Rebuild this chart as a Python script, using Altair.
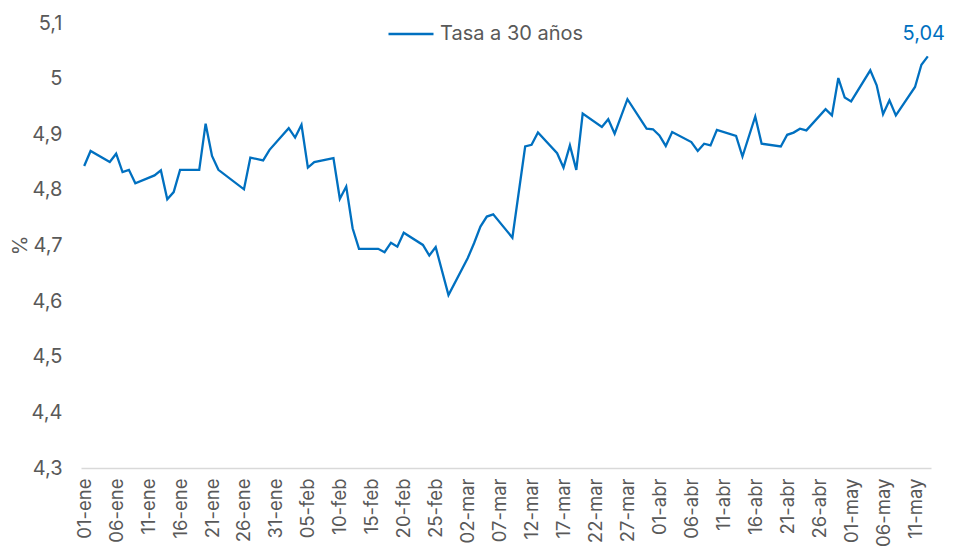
import altair as alt
import pandas as pd

# ---- data ----
fechas = [
    "2026-01-01", "2026-01-02", "2026-01-05", "2026-01-06", "2026-01-07", "2026-01-08", "2026-01-09",
    "2026-01-12", "2026-01-13", "2026-01-14", "2026-01-15", "2026-01-16", "2026-01-19", "2026-01-20",
    "2026-01-21", "2026-01-22", "2026-01-26", "2026-01-27", "2026-01-29", "2026-01-30", "2026-02-02",
    "2026-02-03", "2026-02-04", "2026-02-05", "2026-02-06", "2026-02-09", "2026-02-10", "2026-02-11",
    "2026-02-12", "2026-02-13", "2026-02-16", "2026-02-17", "2026-02-18", "2026-02-19", "2026-02-20",
    "2026-02-23", "2026-02-24", "2026-02-25", "2026-02-27", "2026-03-02", "2026-03-03", "2026-03-04",
    "2026-03-05", "2026-03-06", "2026-03-09", "2026-03-11", "2026-03-12", "2026-03-13", "2026-03-16",
    "2026-03-17", "2026-03-18", "2026-03-19", "2026-03-20", "2026-03-23", "2026-03-24", "2026-03-25",
    "2026-03-27", "2026-03-30", "2026-03-31", "2026-04-01", "2026-04-02", "2026-04-03", "2026-04-06",
    "2026-04-07", "2026-04-08", "2026-04-09", "2026-04-10", "2026-04-13", "2026-04-14", "2026-04-16",
    "2026-04-17", "2026-04-20", "2026-04-21", "2026-04-22", "2026-04-23", "2026-04-24", "2026-04-27",
    "2026-04-28", "2026-04-29", "2026-04-30", "2026-05-01", "2026-05-04", "2026-05-05", "2026-05-06",
    "2026-05-07", "2026-05-08", "2026-05-11", "2026-05-12", "2026-05-13",
]
tasa = [
    4.843, 4.870, 4.850, 4.865, 4.832, 4.836, 4.812,
    4.826, 4.835, 4.783, 4.796, 4.836, 4.836, 4.919,
    4.861, 4.836, 4.801, 4.858, 4.853, 4.872, 4.911,
    4.894, 4.917, 4.840, 4.850, 4.857, 4.784, 4.806,
    4.731, 4.694, 4.694, 4.688, 4.705, 4.698, 4.723,
    4.701, 4.682, 4.697, 4.611, 4.677, 4.704, 4.734,
    4.752, 4.756, 4.714, 4.878, 4.881, 4.903, 4.866,
    4.840, 4.880, 4.836, 4.937, 4.913, 4.927, 4.901,
    4.963, 4.910, 4.909, 4.898, 4.879, 4.904, 4.886,
    4.870, 4.883, 4.880, 4.908, 4.897, 4.860, 4.932,
    4.883, 4.878, 4.899, 4.903, 4.910, 4.907, 4.945,
    4.934, 5.001, 4.966, 4.959, 5.015, 4.988, 4.936,
    4.961, 4.934, 4.985, 5.025, 5.040,
]
serie = "Tasa a 30 años"

etiquetas_x = [
    "01-ene", "06-ene", "11-ene", "16-ene", "21-ene", "26-ene", "31-ene",
    "05-feb", "10-feb", "15-feb", "20-feb", "25-feb",
    "02-mar", "07-mar", "12-mar", "17-mar", "22-mar", "27-mar",
    "01-abr", "06-abr", "11-abr", "16-abr", "21-abr", "26-abr",
    "01-may", "06-may", "11-may",
]
meses = ["ene", "feb", "mar", "abr", "may"]
y_ticks = [4.3, 4.4, 4.5, 4.6, 4.7, 4.8, 4.9, 5.0, 5.1]
anio = 2026

df = pd.DataFrame({"fecha": fechas, "tasa": tasa, "serie": serie})
ultimo = df.tail(1).copy()

tick_vals = []
for lab in etiquetas_x:
    d, m = lab.split("-")
    tick_vals.append(alt.DateTime(year=anio, month=meses.index(m) + 1, date=int(d), utc=True))

meses_expr = "[" + ",".join("'%s'" % m for m in meses) + "]"

FONT = "Inter"
GRAY = "#595959"
BLUE = "#0070C0"
FS = 20

x_enc = alt.X(
    "fecha:T",
    scale=alt.Scale(
        type="utc",
        domain=[
            alt.DateTime(year=anio - 1, month=12, date=31, hours=12, utc=True),
            alt.DateTime(year=anio, month=5, date=13, hours=12, utc=True),
        ],
        nice=False,
    ),
    axis=alt.Axis(
        title=None,
        values=tick_vals,
        tickCount=len(etiquetas_x) + 5,
        labelExpr="utcFormat(datum.value, '%d') + '-' + " + meses_expr + "[utcmonth(datum.value)]",
        labelAngle=-90,
        labelAlign="right",
        labelBaseline="middle",
        labelPadding=10,
        labelFontSize=18.5,
        labelFont=FONT,
        labelColor=GRAY,
        labelOverlap=False,
        labelFlush=False,
        ticks=False,
        domain=True,
        domainColor="#d9d9d9",
        domainWidth=1.3,
        grid=False,
    ),
)

y_enc = alt.Y(
    "tasa:Q",
    scale=alt.Scale(domain=[y_ticks[0], y_ticks[-1]], nice=False, zero=False),
    axis=alt.Axis(
        title="%",
        values=y_ticks,
        tickCount=len(y_ticks) + 2,
        labelExpr="replace(format(datum.value, '.1~f'), '.', ',')",
        labelFontSize=FS,
        labelFont=FONT,
        labelColor=GRAY,
        labelPadding=19,
        ticks=False,
        domain=False,
        grid=False,
        titleFont=FONT,
        titleFontSize=FS,
        titleFontWeight="normal",
        titleColor=GRAY,
        titleAngle=-90,
        titleX=-61,
        titleY=222,
        titleAlign="center",
        titleBaseline="middle",
    ),
)

linea = alt.Chart(df).mark_line(strokeWidth=2.3, interpolate="linear").encode(
    x=x_enc,
    y=y_enc,
    color=alt.Color(
        "serie:N",
        scale=alt.Scale(range=[BLUE]),
        legend=alt.Legend(
            title=None,
            orient="none",
            legendX=306,
            legendY=-13,
            padding=0,
            symbolType="stroke",
            symbolSize=2025,
            symbolStrokeWidth=2.3,
            labelFont=FONT,
            labelFontSize=FS,
            labelColor=GRAY,
            labelOffset=5,
        ),
    ),
)

etiqueta = alt.Chart(ultimo).transform_calculate(
    txt="replace(format(datum.tasa, '.2f'), '.', ',')"
).mark_text(
    font=FONT, fontSize=FS, color=BLUE, align="center", baseline="middle", dx=-4, dy=-22
).encode(x="fecha:T", y="tasa:Q", text="txt:N")

chart = (
    alt.layer(linea, etiqueta)
    .properties(
        width=850,
        height=445,
        autosize=alt.AutoSizeParams(type="none"),
        padding={"left": 73, "top": 15, "right": 15, "bottom": 78},
        background="white",
    )
    .configure_view(stroke=None)
)

chart.save("out.html", embed_options={"renderer": "svg", "actions": False})
